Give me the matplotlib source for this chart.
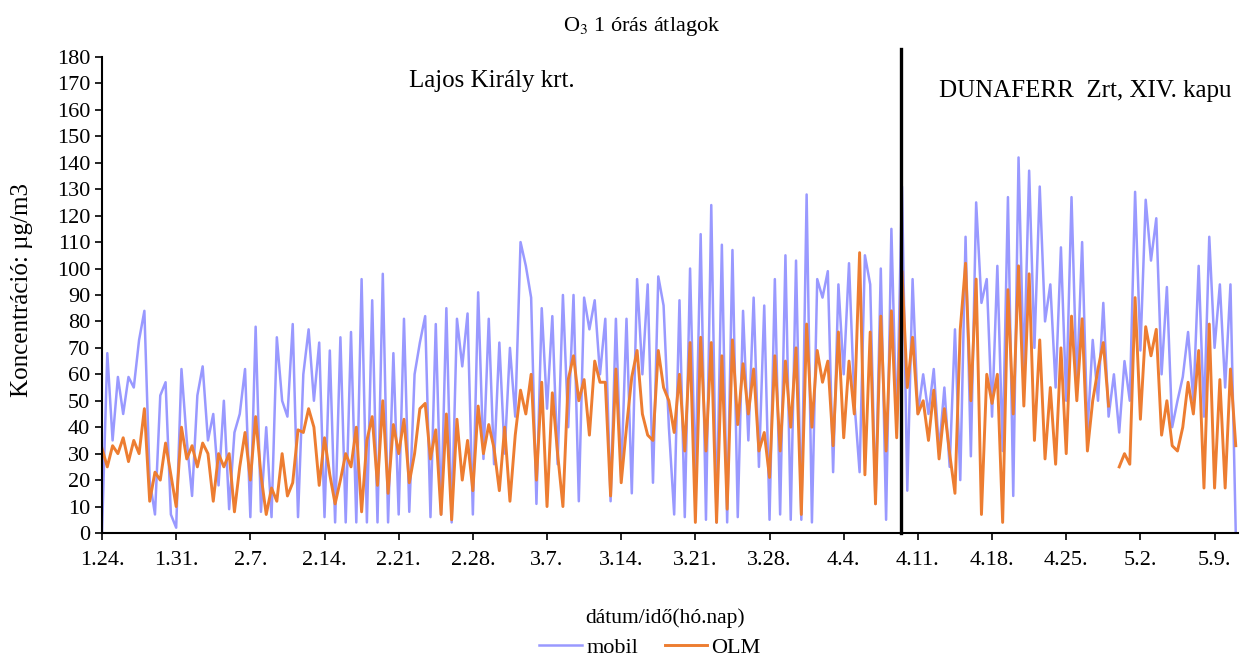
# O3 1 oras atlagok - mobil meroallomas vs OLM, ujrarajzolva

import numpy as np
import matplotlib.pyplot as plt

plt.rcParams['font.family'] = ['Liberation Serif', 'DejaVu Serif']
plt.rcParams['mathtext.fontset'] = 'stix'

# ido: napok 1.24. ota, fel napos lepessel
nap = np.arange(0, 107.5, 0.5)

mobil = [0, 68, 35, 59, 45, 59, 55, 73, 84, 20,
         7, 52, 57, 7, 2, 62, 35, 14, 52, 63,
         35, 45, 18, 50, 9, 38, 45, 62, 6, 78,
         8, 40, 6, 74, 50, 44, 79, 6, 60, 77,
         50, 72, 6, 69, 4, 74, 4, 76, 4, 96,
         4, 88, 4, 98, 4, 68, 7, 81, 8, 60,
         72, 82, 6, 79, 7, 85, 4, 81, 63, 83,
         7, 91, 28, 81, 26, 72, 30, 70, 44, 110,
         101, 89, 11, 85, 47, 82, 26, 90, 40, 90,
         12, 89, 77, 88, 60, 81, 12, 81, 21, 81,
         15, 96, 60, 94, 19, 97, 86, 40, 7, 88,
         6, 100, 19, 113, 5, 124, 4, 109, 4, 107,
         6, 84, 35, 89, 25, 86, 5, 96, 7, 105,
         5, 103, 5, 128, 4, 96, 89, 99, 23, 94,
         60, 102, 50, 23, 105, 94, 11, 100, 5, 115,
         38, 131, 16, 96, 45, 60, 45, 62, 31, 55,
         25, 77, 20, 112, 29, 125, 87, 96, 44, 101,
         31, 127, 14, 142, 60, 137, 70, 131, 80, 94,
         55, 108, 50, 127, 55, 110, 38, 73, 50, 87,
         44, 60, 38, 65, 50, 129, 69, 126, 103, 119,
         60, 93, 40, 50, 59, 76, 50, 101, 44, 112,
         70, 94, 55, 94, 0]

olm = [32, 25, 33, 30, 36, 27, 35, 30, 47, 12,
       23, 20, 34, 22, 10, 40, 28, 33, 25, 34,
       30, 12, 30, 25, 30, 8, 25, 38, 20, 44,
       22, 7, 17, 12, 30, 14, 19, 39, 38, 47,
       40, 18, 36, 22, 11, 20, 30, 25, 40, 8,
       35, 44, 18, 50, 15, 41, 30, 43, 19, 30,
       47, 49, 28, 39, 7, 45, 5, 43, 20, 35,
       16, 48, 30, 41, 32, 16, 40, 12, 37, 54,
       45, 60, 20, 57, 10, 53, 30, 10, 58, 67,
       50, 58, 37, 65, 57, 57, 14, 62, 19, 40,
       59, 69, 45, 37, 35, 69, 55, 50, 38, 60,
       31, 72, 4, 74, 31, 72, 4, 67, 9, 73,
       41, 64, 45, 62, 31, 38, 21, 67, 31, 65,
       40, 70, 7, 79, 40, 69, 57, 65, 33, 76,
       36, 65, 45, 106, 22, 76, 11, 82, 31, 84,
       36, 99, 55, 74, 45, 50, 35, 54, 28, 47,
       30, 15, 77, 102, 50, 96, 7, 60, 49, 60,
       4, 92, 45, 101, 48, 98, 35, 73, 28, 55,
       26, 70, 30, 82, 50, 81, 31, 50, 62, 72,
       48, np.nan, 25, 30, 26, 89, 43, 78, 67, 77,
       37, 50, 33, 31, 40, 57, 45, 69, 17, 79,
       17, 58, 17, 62, 33]

tick_labels = ['1.24.', '1.31.', '2.7.', '2.14.', '2.21.', '2.28.', '3.7.', '3.14.',
               '3.21.', '3.28.', '4.4.', '4.11.', '4.18.', '4.25.', '5.2.', '5.9.']

valtas_nap = 75.4  # helyszin valtas (fekete fuggoleges vonal)

fig = plt.figure(figsize=(12.5, 6.7), dpi=100)
ax = fig.add_axes([0.0816, 0.2045, 0.9087, 0.7105])

ax.plot(nap, mobil, color='#9999FF', lw=1.8, label='mobil')
ax.plot(nap, olm, color='#ED7D31', lw=2.1, label='OLM')

# fuggoleges elvalaszto
ax.plot([valtas_nap, valtas_nap], [0, 183], color='black', lw=2.4, clip_on=False)

ax.set_xlim(0, 107.2)
ax.set_ylim(0, 180)
ax.set_yticks(np.arange(0, 181, 10))
ax.set_xticks(np.arange(len(tick_labels)) * 7)
ax.set_xticklabels(tick_labels)
ax.tick_params(axis='both', labelsize=16, direction='out', length=5, width=1.2, colors='black')
ax.tick_params(axis='x', pad=8)

for s in ['top', 'right']:
    ax.spines[s].set_visible(False)
for s in ['left', 'bottom']:
    ax.spines[s].set_linewidth(1.5)

ax.text(29.0, 171, 'Lajos Király krt.', fontsize=18, va='center', ha='left')
ax.text(79.0, 167, 'DUNAFERR  Zrt, XIV. kapu', fontsize=18, va='center', ha='left')

fig.text(0.513, 0.96, 'O$_3$ 1 órás átlagok', fontsize=16, ha='center', va='center')
fig.text(0.018, 0.567, 'Koncentráció: µg/m3', fontsize=18, rotation=90, ha='center', va='center')
fig.text(0.532, 0.078, 'dátum/idő(hó.nap)', fontsize=15.5, ha='center', va='center')

fig.legend(loc='lower center', bbox_to_anchor=(0.52, -0.012), ncol=2, frameon=False,
           fontsize=16, handlelength=1.9, handletextpad=0.2, columnspacing=1.2)

fig.savefig('out.png', dpi=100)
